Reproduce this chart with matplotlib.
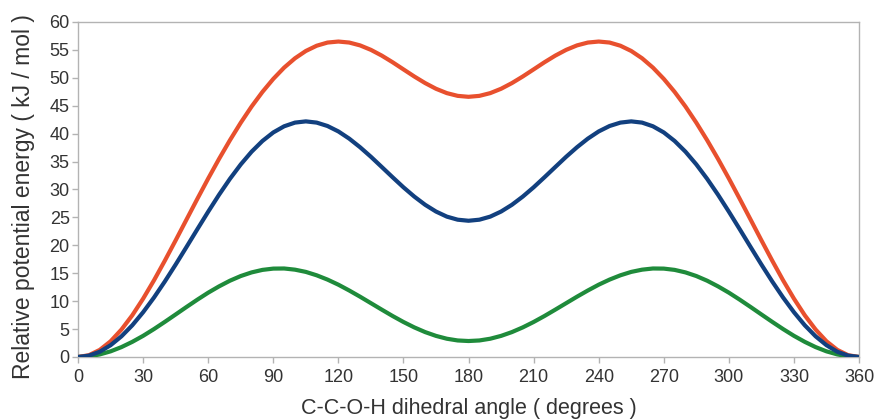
import matplotlib.pyplot as plt

# dihedral angle (degrees), read every 5 degrees
angle = list(range(0, 361, 5))

# relative potential energy (kJ/mol) for 0..180, the curves are mirror images about 180
red_half = [0.0, 0.32, 1.27, 2.81, 4.91, 7.47, 10.45, 13.73, 17.25, 20.90, 24.62, 28.33,
            31.97, 35.48, 38.82, 41.96, 44.86, 47.48, 49.81, 51.83, 53.50, 54.81, 55.75,
            56.32, 56.50, 56.32, 55.81, 55.01, 53.98, 52.79, 51.51, 50.24, 49.06, 48.04,
            47.26, 46.77, 46.60]
blue_half = [0.0, 0.24, 0.94, 2.11, 3.70, 5.68, 8.02, 10.65, 13.52, 16.56, 19.71, 22.89,
             26.03, 29.06, 31.90, 34.49, 36.77, 38.69, 40.22, 41.32, 41.98, 42.20, 41.98,
             41.37, 40.40, 39.11, 37.57, 35.86, 34.03, 32.19, 30.39, 28.73, 27.26, 26.05,
             25.14, 24.59, 24.40]
green_half = [0.0, 0.11, 0.46, 1.01, 1.77, 2.71, 3.79, 5.00, 6.29, 7.62, 8.96, 10.27,
              11.52, 12.65, 13.66, 14.50, 15.15, 15.60, 15.83, 15.85, 15.64, 15.24, 14.63,
              13.86, 12.95, 11.91, 10.80, 9.64, 8.48, 7.34, 6.27, 5.30, 4.46, 3.78,
              3.27, 2.96, 2.86]

red = red_half + red_half[-2::-1]
blue = blue_half + blue_half[-2::-1]
green = green_half + green_half[-2::-1]

x_ticks = list(range(0, 361, 30))
y_ticks = list(range(0, 61, 5))

plt.rcParams['font.family'] = ['Liberation Sans', 'DejaVu Sans']

fig = plt.figure(figsize=(8.77, 4.19), dpi=100)
ax = fig.add_axes([0.089, 0.148, 0.8905, 0.7995])

ax.plot(angle, green, color='#1f8b3b', lw=3.0, solid_capstyle='round', zorder=3)
ax.plot(angle, red, color='#e8502e', lw=3.0, solid_capstyle='round', zorder=4)
ax.plot(angle, blue, color='#12407f', lw=3.0, solid_capstyle='round', zorder=5)

ax.set_xlim(0, 360)
ax.set_ylim(0, 60)
ax.set_xticks(x_ticks)
ax.set_yticks(y_ticks)

for side in ['left', 'right', 'top', 'bottom']:
    ax.spines[side].set_color('#b3b3b3')
    ax.spines[side].set_linewidth(1.0)

ax.tick_params(axis='both', direction='out', length=4, width=1.0, color='#b3b3b3',
               labelsize=13, labelcolor='#333333', pad=2)
ax.tick_params(axis='x', pad=5)

ax.set_xlabel('C-C-O-H dihedral angle ( degrees )', fontsize=15.5, color='#333333', labelpad=8)
ax.set_ylabel('Relative potential energy ( kJ / mol )', fontsize=16.5, color='#333333')
ax.yaxis.set_label_coords(-0.055, 0.478)

fig.savefig('out.png', dpi=100)
plt.close(fig)
